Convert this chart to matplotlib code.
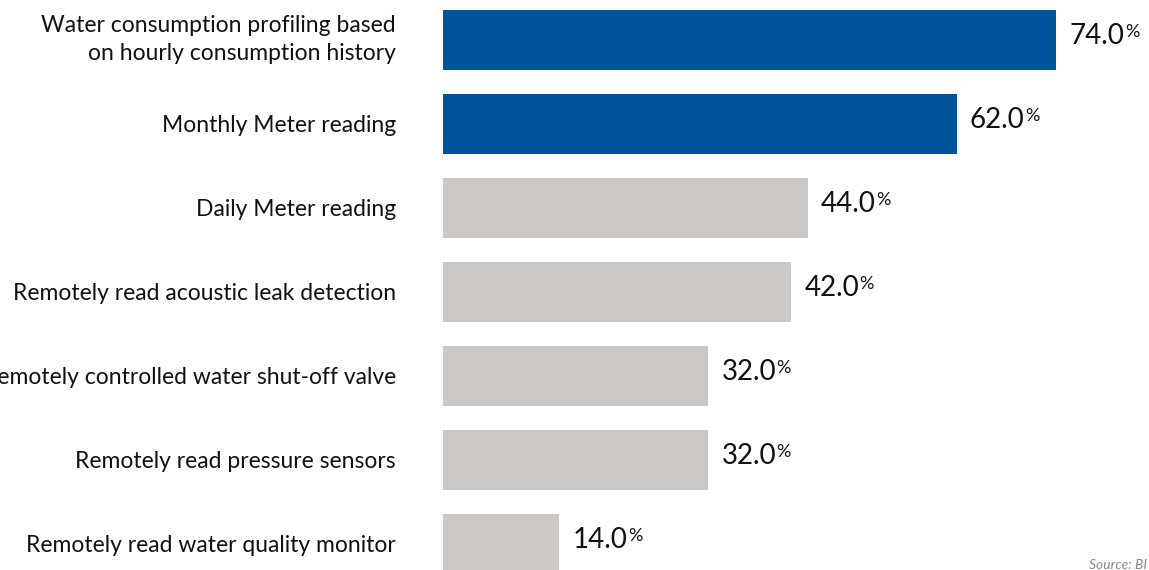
import matplotlib.pyplot as plt
from matplotlib.transforms import ScaledTranslation

# Data
categories = [
    "Water consumption profiling based\non hourly consumption history",
    "Monthly Meter reading",
    "Daily Meter reading",
    "Remotely read acoustic leak detection",
    "Remotely controlled water shut-off valve",
    "Remotely read pressure sensors",
    "Remotely read water quality monitor",
]
values = [74.0, 62.0, 44.0, 42.0, 32.0, 32.0, 14.0]
highlight = [True, True, False, False, False, False, False]

blue = "#00559A"
grey = "#CBC8C5"

plt.rcParams['font.family'] = ['Lato', 'DejaVu Sans']

fig = plt.figure(figsize=(11.49, 5.70), dpi=100)
ax = fig.add_axes([443 / 1149, 0, (1149 - 443) / 1149, 1])

positions = list(range(len(values)))
colors = [blue if h else grey for h in highlight]
ax.barh(positions, values, height=0.714, color=colors, align='center')

ax.set_xlim(0, 85.2)
ax.set_ylim(6.31, -0.476)

ax.set_yticks(positions)
ax.set_yticklabels(categories, fontsize=16.5, color='#111111', linespacing=1.4)
ax.tick_params(axis='y', length=0, pad=34)
ax.set_xticks([])
for s in ax.spines.values():
    s.set_visible(False)

# nudge the two-line label up a little
first = ax.get_yticklabels()[0]
first.set_transform(first.get_transform() + ScaledTranslation(0, 4 / 72, fig.dpi_scale_trans))

# Value labels with small superscript percent sign
for i, v in enumerate(values):
    t = ax.annotate(f"{v:.1f}", xy=(v, i - 0.05), xytext=(9.5, 0),
                    textcoords='offset points', ha='left', va='center',
                    fontsize=20, color='#111111')
    ax.annotate("%", xy=(1, 0.95), xycoords=t, xytext=(0.5, 0),
                textcoords='offset points', ha='left', va='top',
                fontsize=13, color='#111111')

fig.text(1089 / 1149, 1 - 559 / 570, "Source: BI", fontsize=10, style='italic',
         color='#888888', ha='left', va='top')

fig.savefig("out.png", dpi=100)
